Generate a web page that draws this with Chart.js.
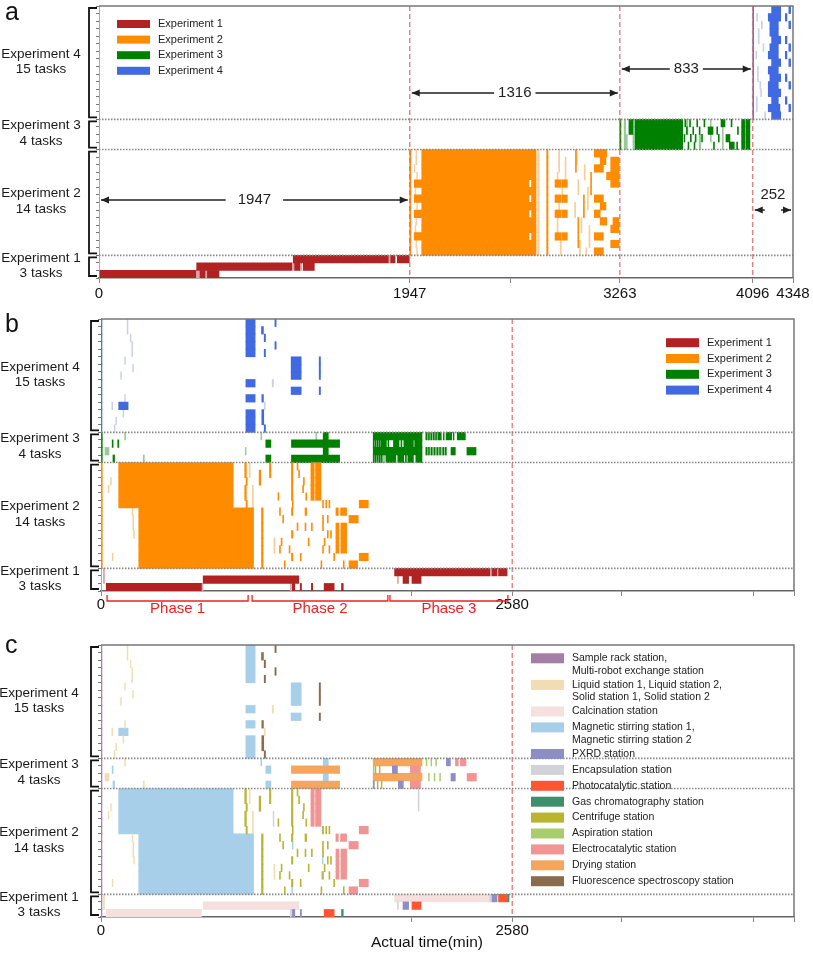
<!DOCTYPE html>
<html><head><meta charset="utf-8">
<script src="https://cdn.jsdelivr.net/npm/chart.js@4.4.1/dist/chart.umd.min.js"></script>
<style>
html,body{margin:0;padding:0;background:#fff;}
#wrap{position:relative;width:813px;height:953px;overflow:hidden;background:#fff;}
canvas{position:absolute;left:0;}
</style></head><body>
<div id="wrap">
<canvas id="ca" width="813" height="300" style="top:0px"></canvas>
<canvas id="cb" width="813" height="330" style="top:300px"></canvas>
<canvas id="cc" width="813" height="323" style="top:630px"></canvas>
</div>
<script>
// ---------------- categories ----------------
const groupNames = ['Experiment 4','Experiment 3','Experiment 2','Experiment 1'];
const groupTasks = [15,4,14,3];
const rowLabels = [];
groupNames.forEach((g,gi)=>{ for(let k=1;k<=groupTasks[gi];k++) rowLabels.push(g+' task '+k); });

const expNames = ['Experiment 1','Experiment 2','Experiment 3','Experiment 4'];
const stationNames = ['Sample rack station,\nMulti-robot exchange station','Liquid station 1, Liquid station 2,\nSolid station 1, Solid station 2','Calcination station','Magnetic stirring station 1,\nMagnetic stirring station 2','PXRD station','Encapsulation station','Photocatalytic station','Gas chromatography station','Centrifuge station','Aspiration station','Electrocatalytic station','Drying station','Fluorescence spectroscopy station'];

// ---------------- axis ticks ----------------
const timeMax = 4348;
const tickValues = [0,1947,2580,3263,4096,4348];
const aTickLabels = [0,1947,3263,4096,4348];
const bTickLabels = [0,2580];
const aMarkers = [1947,3263,4096];
const bMarkers = [2580];
const spanFrom = [0,1947,3263,4096];
const spanTo = [1947,3263,4096,4348];
const spanLabels = ['1947','1316','833','252'];
const phaseNames = ['Phase 1','Phase 2','Phase 3'];
const phaseFrom = [38,948,1813];
const phaseTo = [923,1800,2553];

// ---------------- series: [firstTask, lastTask, start(min), end(min)] ----------------
// Panel a (sequential execution)
const aExp1 = [[33,33,1217,1812],[33,33,1828,1855],[33,33,1869,1944],[34,34,612,1207],[34,34,1226,1258],[34,34,1280,1349],[35,35,6,606],[35,35,633,664],[35,35,679,752]];
const aExp1Faint = [[33,34,0,5],[33,33,1812,1828],[34,34,1207,1226],[35,35,606,633],[34,34,1258,1272],[35,35,664,676]];
const aExp2 = [[19,32,1947,1954],
 [19,22,2022,2738],[23,23,1975,2694],[24,24,2022,2738],[25,25,1975,2694],[26,26,2022,2738],[27,27,1975,2694],[28,29,2022,2738],[30,30,1975,2694],[31,32,2022,2738],
 [23,23,2710,2738],[25,25,2710,2738],[27,27,2710,2738],[30,30,2710,2738],
 [23,23,2857,2893],[23,23,2899,2934],[25,25,2857,2893],[25,25,2899,2934],[27,27,2857,2893],[27,27,2899,2934],[30,30,2857,2893],[30,30,2899,2934],
 [19,32,2805,2813],[19,21,2985,2991],[25,27,3035,3041],[22,24,3080,3086],[28,31,3000,3006],
 [19,19,3103,3181],[20,20,3140,3176],[20,20,3206,3258],[21,21,3103,3160],[21,21,3206,3258],[22,22,3180,3258],[23,23,3206,3258],[25,25,3103,3160],[26,26,3140,3176],[27,27,3103,3140],[28,28,3140,3181],[28,28,3220,3258],[29,29,3206,3258],[30,30,3103,3160],[31,31,3206,3258],[32,32,3103,3160]];
const aExp2Faint = [[19,20,1985,1990],[21,21,1975,1980],[22,22,1990,1995],[24,24,1980,1985],[26,26,1990,1995],[28,28,1985,1990],[29,29,1980,1985],[31,31,1985,1990],[32,32,1990,1995],
 [19,32,2748,2758],[19,21,2880,2886],[20,22,2920,2926],[22,22,2870,2876],[24,24,2900,2906],[26,26,2880,2886],[28,29,2870,2876],[31,32,2890,2896],
 [19,20,2990,2996],[21,22,3040,3046],[23,24,3000,3006],[24,26,3060,3066],[26,27,2980,2986],[28,29,3020,3026],[29,31,3070,3076],[31,32,3010,3016],[32,32,3050,3056]];
const aExp3 = [[15,18,3263,3270],[15,16,3320,3345],[15,18,3358,3657],
 [16,16,3816,3847],[15,15,3897,3922],[17,17,3928,3953],[18,18,3949,3980],[15,18,4026,4045],[15,18,4052,4078],
 [15,15,3670,3676],[15,15,3700,3706],[15,15,3745,3751],[15,15,3790,3796],[16,16,3680,3686],[16,16,3720,3726],[16,16,3760,3766],[17,17,3665,3671],[17,17,3705,3711],[17,17,3735,3741],[17,17,3775,3781],[17,17,3880,3886],[18,18,3690,3696],[18,18,3728,3734],[18,18,3850,3856],[18,18,3995,4001],[16,16,3870,3876],[15,15,3960,3966],[16,16,4000,4006]];
const aExp3Faint = [[15,18,3290,3300],[17,18,3300,3310],[15,18,3345,3352],[15,16,3680,3690],[17,18,3760,3770],[15,17,3830,3836],[16,18,3905,3911]];
const aExp4 = [[0,14,4096,4101],
 [0,0,4214,4271],[1,1,4193,4271],[2,3,4203,4256],[4,4,4214,4271],[5,5,4203,4256],[6,6,4193,4256],[7,7,4214,4271],[8,8,4193,4256],[9,9,4203,4271],[10,10,4193,4256],[11,11,4193,4271],[12,12,4214,4256],[13,13,4193,4266],[14,14,4214,4271],
 [1,1,4300,4310],[4,4,4300,4310],[6,6,4300,4310],[9,9,4300,4310],[12,12,4300,4310],[0,0,4322,4333],[2,2,4322,4333],[5,5,4322,4333],[7,7,4322,4333],[10,10,4322,4333],[13,13,4322,4333]];
const aExp4Faint = [[1,1,4120,4126],[3,4,4130,4136],[6,6,4115,4121],[8,9,4125,4131],[10,10,4140,4146],[12,13,4118,4124],[2,2,4150,4156],[5,5,4160,4166],[11,11,4145,4151],[14,14,4170,4176]];

// Panel b (parallel execution)
const bExp1 = [[33,33,1842,2439],[33,33,2454,2485],[33,33,2494,2548],[34,34,641,1241],[34,34,1895,1930],[34,34,1951,2008],[35,35,33,630],[35,35,1200,1216],[35,35,1250,1258],[35,35,1320,1328],[35,35,1400,1463],[35,35,1509,1520]];
const bExp1Faint = [[33,34,15,22],[34,34,1860,1866],[35,35,1188,1194],[35,35,630,640],[33,33,2439,2454]];
const bExp2Blocks = [[19,32,0,8],[19,24,111,829],[25,32,237,957],[19,23,1317,1338],[19,23,1346,1380],[24,24,1620,1677],[25,25,1474,1489],[25,25,1503,1541],[26,26,1556,1614],[27,30,1474,1493],[27,30,1505,1541],[31,31,1620,1677],[32,32,1556,1610]];
const bExp2Thin = [[19,19,902,912],[19,19,1057,1066],[19,19,1195,1204],[19,19,1230,1236],[20,20,902,912],[20,20,992,1002],[20,20,1057,1066],[20,20,1195,1204],[20,20,1240,1246],
 [21,21,910,918],[21,21,992,1002],[21,21,1195,1204],[21,21,1270,1276],[22,22,902,912],[22,22,1195,1204],[22,22,1265,1271],[23,23,902,912],[23,23,1110,1116],[23,23,1195,1204],[23,23,1285,1291],
 [24,24,910,918],[24,24,1200,1206],[24,24,1390,1396],[24,24,1410,1416],[24,24,1430,1436],[25,25,1007,1017],[25,25,1120,1126],[25,25,1195,1204],[25,25,1280,1290],
 [26,26,1007,1017],[26,26,1140,1146],[26,26,1390,1396],[26,26,1420,1426],[27,27,1007,1017],[27,27,1230,1236],[27,27,1280,1286],[27,27,1320,1326],[27,27,1390,1396],
 [28,28,1007,1017],[28,28,1195,1204],[28,28,1420,1426],[28,28,1440,1446],[29,29,1007,1017],[29,29,1130,1136],[29,29,1300,1306],[29,29,1400,1406],
 [30,30,1007,1017],[30,30,1120,1126],[30,30,1180,1186],[30,30,1390,1396],[30,30,1430,1436],[31,31,1007,1017],[31,31,1195,1204],[31,31,1250,1256],[31,31,1460,1466],
 [32,32,1007,1017],[32,32,1150,1156],[32,32,1380,1386],[32,32,1520,1526]];
const bExp2Faint = [[21,21,60,65],[22,22,45,50],[25,25,195,200],[26,26,200,205],[27,27,200,205],[28,28,205,210],[31,31,70,75],[19,20,930,936],[22,24,950,956],[29,30,1085,1091]];
const bExp3Blocks = [[15,18,0,8],[16,16,70,76],[16,16,105,112],[18,18,75,85],[16,16,1034,1066],[18,18,1034,1066],[16,16,1195,1497],[18,18,1195,1497],[15,15,1394,1426],[17,17,1394,1426],[15,15,1708,2014],[17,17,1708,2014],
 [16,16,1758,1790],[16,16,1835,1870],[16,16,1900,1960],[16,16,1968,2014],[18,18,1790,1850],[18,18,1862,1900],[18,18,1925,1960],[18,18,1975,2014],
 [17,17,2196,2223],[17,17,2296,2353],[15,15,2115,2135],[15,15,2165,2200],[15,15,2235,2286]];
const bExp3Stripes = [[16,16,1708,1713],[16,16,1720,1725],[16,16,1733,1738],[16,16,1746,1751],[16,16,1800,1806],[16,16,1882,1888],[18,18,1708,1713],[18,18,1720,1725],[18,18,1733,1738],[18,18,1746,1751],[18,18,1758,1763],[18,18,1910,1916],
 [15,15,2040,2045],[15,15,2055,2060],[15,15,2070,2075],[15,15,2085,2090],[15,15,2100,2105],[15,15,2148,2153],[15,15,2210,2215],
 [17,17,2040,2045],[17,17,2055,2060],[17,17,2072,2077],[17,17,2090,2095],[17,17,2108,2113],[17,17,2125,2130],[17,17,2145,2150],[17,17,2160,2165]];
const bExp3Faint = [[17,17,25,50],[15,15,148,154],[18,18,265,272],[15,15,1003,1009],[17,17,905,910],[15,15,1348,1354],[16,16,1708,1790],[18,18,1708,1790],[15,15,2035,2130],[17,17,2035,2170]];
const bExp4Blocks = [[0,14,0,6],[0,4,909,967],[8,8,909,967],[10,10,909,967],[12,14,909,967],[5,7,1193,1256],[9,9,1193,1256],[11,11,111,170]];
const bExp4Thin = [[1,1,1007,1019],[2,2,1024,1032],[0,0,1091,1099],[3,3,1091,1099],[4,4,1024,1032],[10,10,1009,1019],[12,13,1009,1021],[14,14,1024,1032],[5,7,1369,1377],[9,9,1369,1377]];
const bExp4Faint = [[0,1,164,169],[2,2,183,188],[3,4,193,198],[5,5,148,153],[6,6,198,203],[7,7,123,128],[10,10,148,153],[11,11,68,73],[12,12,138,143],[13,13,93,98],[14,14,83,88],[8,8,1074,1082],[11,11,1025,1031]];

// Panel c (by station)
const cSample = [[0,35,0,6]];
const cLiquid = [...bExp4Faint, ...bExp2Faint, [17,17,25,50],[15,15,148,154],[18,18,265,272],[33,34,15,22]];
const cCalc = [[33,33,1842,2439],[34,34,641,1241],[35,35,33,630]];
const cMag = [[0,4,909,967],[8,8,909,967],[10,10,909,967],[12,14,909,967],[5,7,1193,1256],[9,9,1193,1256],[11,11,111,170],[16,16,1034,1066],[18,18,1034,1066],[15,15,1394,1426],[17,17,1394,1426],[19,24,111,829],[25,32,237,957],
 [20,20,1197,1202],[21,21,998,1003],[24,24,1388,1393],[26,26,1200,1205],[28,28,1388,1393],[30,30,1384,1389],[32,32,1197,1202],[15,15,1003,1009],[16,16,70,76],[18,18,75,85]];
const cPXRD = [[35,35,1200,1216],[35,35,1250,1258],[34,34,1895,1930],[33,33,2454,2485],[16,16,1828,1860],[18,18,1866,1897],[15,15,2167,2192],[17,17,2196,2223],[18,18,1708,1714]];
const cEncap = [[35,35,1188,1194],[34,34,1860,1866],[19,21,1990,1995],[22,23,1080,1085],[33,33,2439,2454]];
const cPhoto = [[35,35,1400,1463],[34,34,1951,2008],[33,33,2494,2548]];
const cGC = [[35,35,1509,1520],[33,33,2550,2560]];
const cCent = [...bExp2Thin, [16,16,1720,1725],[16,16,1746,1751],[18,18,1733,1738],[18,18,1758,1763]];
const cAsp = [[15,15,2040,2045],[15,15,2070,2075],[15,15,2100,2105],[17,17,2055,2060],[17,17,2090,2095],[17,17,2125,2130],[16,16,1708,1713],[18,18,1708,1713]];
const cElec = [[19,23,1317,1338],[19,23,1346,1380],[24,24,1620,1677],[25,25,1474,1489],[25,25,1503,1541],[26,26,1556,1614],[27,30,1474,1493],[27,30,1505,1541],[31,31,1620,1677],[32,32,1556,1610],[16,16,1941,2004],[18,18,1941,2004],[15,15,2224,2242],[15,15,2255,2290],[17,17,2297,2355]];
const cDry = [[16,16,1195,1497],[18,18,1195,1497],[15,15,1708,2014],[17,17,1708,2014]];
const cFluo = [...bExp4Thin];

// ---------------- styles ----------------
const EXP_COL = ['#b22222','#ff8c00','#008000','#4169e1'];
const EXP_FAINT = ['#dba3a3','#f8cd98','#9cc99c','#c7d1e8'];
const ST_COL = ['#a57ea5','#f2dcb3','#f5dfdf','#a8cfea','#8e8ec6','#d2d2da','#ff5533','#3f8f6f','#b8b531','#a9cc6e','#f09494','#f4a55e','#8b6b4e'];
const FONT = "'Liberation Sans', Arial, Helvetica, sans-serif";
Chart.defaults.font.family = FONT;

function expand(list){
  const out=[];
  list.forEach(([r0,r1,s,e])=>{ for(let r=r0;r<=r1;r++) out.push({x:[s,e], y:rowLabels[r]}); });
  return out;
}
function ds(label, list, color, order){
  return {label, data:expand(list), backgroundColor:color, borderWidth:0, barPercentage:1, categoryPercentage:1, grouped:false, order:order||0};
}

const decor = {
  id:'decor',
  afterDatasetsDraw(chart, args, o){
    const ctx=chart.ctx, ca=chart.chartArea, xs=chart.scales.x, ys=chart.scales.y;
    const rh = ys.getPixelForValue(1)-ys.getPixelForValue(0);
    const rowTop = r => ys.getPixelForValue(r)-rh/2;
    ctx.save();
    // dashed markers
    ctx.strokeStyle='#e46a6a'; ctx.lineWidth=1.2; ctx.setLineDash([5,3]);
    o.markers.forEach(t=>{ const x=xs.getPixelForValue(t); ctx.beginPath(); ctx.moveTo(x,ca.top); ctx.lineTo(x,ca.bottom); ctx.stroke(); });
    // group separators
    ctx.strokeStyle='#888'; ctx.lineWidth=1.6; ctx.setLineDash([1.5,1.5]);
    let acc=0;
    groupTasks.forEach((n,i)=>{ acc+=n; if(i<groupTasks.length-1){ const y=rowTop(acc); ctx.beginPath(); ctx.moveTo(ca.left,y); ctx.lineTo(ca.right,y); ctx.stroke(); } });
    ctx.setLineDash([]);
    // frame
    ctx.strokeStyle='#777'; ctx.lineWidth=1.5;
    ctx.beginPath(); ctx.moveTo(ca.left,ca.top); ctx.lineTo(ca.right,ca.top); ctx.lineTo(ca.right,ca.bottom); ctx.stroke();
    // braces + group labels
    acc=0;
    ctx.fillStyle='#1a1a1a'; ctx.textAlign='center'; ctx.textBaseline='middle';
    ctx.font='13.5px '+FONT;
    groupTasks.forEach((n,i)=>{
      const top=rowTop(acc)+2, bot=rowTop(acc+n)-2; acc+=n;
      const bx=ca.left-10, ex=ca.left-2;
      ctx.strokeStyle='#111'; ctx.lineWidth=1.8;
      ctx.beginPath(); ctx.moveTo(ex,top); ctx.lineTo(bx,top); ctx.lineTo(bx,bot); ctx.lineTo(ex,bot); ctx.stroke();
      const cy=(top+bot)/2-1;
      ctx.fillText(groupNames[i], o.labelX, cy-7.8);
      ctx.fillText(n+' tasks', o.labelX, cy+7.8);
    });
    // panel letter
    ctx.font='25px '+FONT; ctx.textAlign='left'; ctx.textBaseline='alphabetic'; ctx.fillStyle='#111';
    ctx.fillText(o.letter, 5, o.letterY);
    // legend
    const L=o.legend;
    let y=L.y;
    L.items.forEach(name=>{
      const d=chart.data.datasets.find(s=>s.label===name);
      const lines=name.split('\n');
      ctx.fillStyle=d.backgroundColor; ctx.fillRect(L.x, y-L.h/2, L.w, L.h);
      ctx.fillStyle='#222'; ctx.font=L.font+'px '+FONT; ctx.textAlign='left'; ctx.textBaseline='middle';
      lines.forEach((ln,k)=>ctx.fillText(ln, L.tx, y+k*L.lineStep));
      y += L.step + (lines.length-1)*L.extra;
    });
    // spans (panel a)
    if(o.spans){
      ctx.strokeStyle='#222'; ctx.fillStyle='#222'; ctx.lineWidth=1.5;
      ctx.font='15px '+FONT; ctx.textAlign='center'; ctx.textBaseline='middle';
      const head=(x,yy,dir)=>{ ctx.beginPath(); ctx.moveTo(x,yy); ctx.lineTo(x-dir*8,yy-3.5); ctx.lineTo(x-dir*8,yy+3.5); ctx.closePath(); ctx.fill(); };
      spanFrom.forEach((f,i)=>{
        const s=o.spans[i];
        const x1=xs.getPixelForValue(f)+2, x2=xs.getPixelForValue(spanTo[i])-2;
        if(s.labelY===undefined){
          const mid=(x1+x2)/2, tw=ctx.measureText(spanLabels[i]).width/2+s.pad;
          ctx.beginPath(); ctx.moveTo(x1,s.y); ctx.lineTo(mid-tw,s.y); ctx.moveTo(mid+tw,s.y); ctx.lineTo(x2,s.y); ctx.stroke();
          ctx.fillText(spanLabels[i], mid, s.y);
        } else {
          ctx.beginPath(); ctx.moveTo(x1,s.y); ctx.lineTo(x1+10,s.y); ctx.moveTo(x2-10,s.y); ctx.lineTo(x2,s.y); ctx.stroke();
          ctx.fillText(spanLabels[i], (x1+x2)/2, s.labelY);
        }
        head(x1,s.y,-1); head(x2,s.y,1);
      });
    }
    // phases (panel b)
    if(o.phases){
      ctx.strokeStyle='#ee2222'; ctx.fillStyle='#ee2222'; ctx.lineWidth=1.3;
      ctx.font='15px '+FONT; ctx.textAlign='center'; ctx.textBaseline='middle';
      phaseNames.forEach((p,i)=>{
        const x1=xs.getPixelForValue(phaseFrom[i]), x2=xs.getPixelForValue(phaseTo[i]);
        ctx.beginPath(); ctx.moveTo(x1,o.phases.top); ctx.lineTo(x1,o.phases.y); ctx.lineTo(x2,o.phases.y); ctx.lineTo(x2,o.phases.top); ctx.stroke();
        ctx.fillText(p, (x1+x2)/2, o.phases.textY);
      });
    }
    // axis title (panel c)
    if(o.title){
      ctx.fillStyle='#111'; ctx.font='15.5px '+FONT; ctx.textAlign='center'; ctx.textBaseline='middle';
      ctx.fillText(o.title.text, o.title.x, o.title.y);
    }
    ctx.restore();
  }
};

function makeChart(id, datasets, cfg){
  return new Chart(document.getElementById(id), {
    type:'bar',
    data:{labels:rowLabels, datasets},
    plugins:[decor],
    options:{
      responsive:false, animation:false, indexAxis:'y',
      layout:{padding:{left:cfg.padL, right:cfg.padR, top:cfg.padT, bottom:0}},
      plugins:{legend:{display:false}, tooltip:{enabled:false}, decor:cfg},
      scales:{
        x:{type:'linear', min:0, max:timeMax,
           afterBuildTicks:s=>{ s.ticks=tickValues.map(v=>({value:v})); },
           afterFit:s=>{ s.height=cfg.xH; },
           ticks:{autoSkip:false, maxRotation:0, minRotation:0, padding:cfg.tickPad, color:'#111', font:{size:15},
                  callback:v=>cfg.tickLabels.includes(v)?String(v):''},
           grid:{drawOnChartArea:false, drawTicks:true, tickLength:5, color:'#888'},
           border:{display:true, color:'#666', width:1.5}},
        y:{type:'category', offset:true, afterFit:s=>{ s.width=3; },
           ticks:{display:false},
           grid:{drawOnChartArea:false, drawTicks:true, tickLength:3, color:'#777', offset:true},
           border:{display:true, color:'#aaa', width:1}}
      }
    }
  });
}

// Panel a
makeChart('ca', [
  ds(expNames[0], aExp1, EXP_COL[0]), ds(expNames[1], aExp2, EXP_COL[1]), ds(expNames[2], aExp3, EXP_COL[2]), ds(expNames[3], aExp4, EXP_COL[3]),
  ds('Experiment 1 (short steps)', aExp1Faint, EXP_FAINT[0], 1), ds('Experiment 2 (short steps)', aExp2Faint, EXP_FAINT[1], 1),
  ds('Experiment 3 (short steps)', aExp3Faint, EXP_FAINT[2], 1), ds('Experiment 4 (short steps)', aExp4Faint, EXP_FAINT[3], 1)
], {padL:96, padR:20, padT:6, xH:22, tickPad:2, tickLabels:aTickLabels, markers:aMarkers, labelX:41, letter:'a', letterY:20,
    legend:{x:117, y:24, w:33, h:8, tx:158, font:11, lineStep:12.4, step:15.6, extra:0, items:expNames},
    spans:[{y:200,pad:12},{y:93,pad:4},{y:69,pad:4},{y:210,labelY:195}]});

// Panel b
makeChart('cb', [
  ds(expNames[0], bExp1, EXP_COL[0]), ds(expNames[1], [...bExp2Blocks, ...bExp2Thin], EXP_COL[1]),
  ds(expNames[2], [...bExp3Blocks, ...bExp3Stripes], EXP_COL[2]), ds(expNames[3], [...bExp4Blocks, ...bExp4Thin], EXP_COL[3]),
  ds('Experiment 1 (short steps)', bExp1Faint, EXP_FAINT[0], 1), ds('Experiment 2 (short steps)', bExp2Faint, EXP_FAINT[1], 1),
  ds('Experiment 3 (short steps)', bExp3Faint, EXP_FAINT[2], 1), ds('Experiment 4 (short steps)', bExp4Faint, EXP_FAINT[3], 1)
], {padL:98, padR:19, padT:19, xH:39, tickPad:0, tickLabels:bTickLabels, markers:bMarkers, labelX:40, letter:'b', letterY:32,
    legend:{x:666, y:42.7, w:33, h:9, tx:707, font:11, lineStep:12.4, step:15.8, extra:0, items:expNames},
    phases:{top:295, y:301, textY:309}});

// Panel c
const cLists = [cSample, cLiquid, cCalc, cMag, cPXRD, cEncap, cPhoto, cGC, cCent, cAsp, cElec, cDry, cFluo];
makeChart('cc', stationNames.map((n,i)=>ds(n, cLists[i], ST_COL[i], i===1||i===2||i===3?1:0)),
  {padL:98, padR:19, padT:15, xH:36, tickPad:0, tickLabels:bTickLabels, markers:bMarkers, labelX:39, letter:'c', letterY:23,
   legend:{x:531, y:28.3, w:33, h:10, tx:572, font:10.5, lineStep:12.4, step:15.9, extra:10.7, items:stationNames},
   title:{text:'Actual time(min)', x:427, y:312.5}});
</script>
</body></html>
